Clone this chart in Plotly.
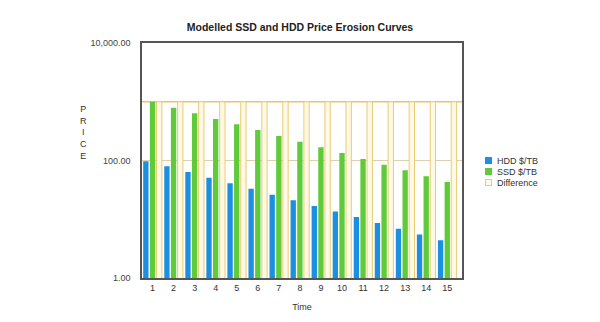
import plotly.graph_objects as go

TIME = list(range(1, 16))
TIME_LABELS = [str(t) for t in TIME]
HDD = [97, 80, 64, 51, 41, 33, 26, 21, 16.8, 13.6, 10.9, 8.6, 6.9, 5.5, 4.4]
SSD = [1000, 790, 635, 508, 413, 330, 261, 209, 168, 134, 106, 85, 68, 54, 43]
DIFFERENCE = [1000] * 15
Y_TICKS = [1, 100, 10000]
Y_TICK_LABELS = ["1.00", "100.00", "10,000.00"]
SERIES_NAMES = ["HDD $/TB", "SSD $/TB", "Difference"]

FONT = "Liberation Sans, Arial, sans-serif"
COLORS = ["#1b8fe0", "#5fca3a", "#fdf9e4"]
OUTLINES = ["#1b8fe0", "#5fca3a", "#e9cc74"]

fig = go.Figure()
for name, vals, c, oc, w in zip(SERIES_NAMES, [HDD, SSD, DIFFERENCE], COLORS, OUTLINES, [0, 0, 1]):
    fig.add_trace(go.Bar(x=TIME, y=vals, name=name, showlegend=False,
                         marker=dict(color=c, line=dict(color=oc, width=w))))

fig.add_shape(type="line", xref="paper", x0=0, x1=1, yref="y",
              y0=max(DIFFERENCE), y1=max(DIFFERENCE),
              line=dict(color="#ebc466", width=1.5), layer="below")

# custom compact legend
legend_x_sym = 1.084
legend_x_txt = 1.103
legend_y0 = 0.499
legend_dy = 0.047
for i, (name, c, oc) in enumerate(zip(SERIES_NAMES, COLORS, OUTLINES)):
    yy = legend_y0 - i * legend_dy
    fig.add_annotation(text="", xref="paper", yref="paper", x=legend_x_sym, y=yy,
                       showarrow=False, width=5, height=5, bgcolor=c,
                       bordercolor=oc, borderwidth=1, borderpad=0,
                       xanchor="center", yanchor="middle")
    fig.add_annotation(text=name, xref="paper", yref="paper", x=legend_x_txt, y=yy,
                       showarrow=False, xanchor="left", yanchor="middle",
                       font=dict(size=9, color="#333", family=FONT))

fig.update_layout(
    width=600, height=322,
    margin=dict(l=142, r=138, t=43, b=44),
    paper_bgcolor="white", plot_bgcolor="white",
    barmode="group", bargap=0.05, bargroupgap=0.2,
    font=dict(family=FONT, size=9, color="#333"),
    showlegend=False,
    title=dict(text="<b>Modelled SSD and HDD Price Erosion Curves</b>",
               x=0.5, xanchor="center", y=0.915, yanchor="middle",
               font=dict(size=10.5, color="#222", family=FONT)),
    xaxis=dict(range=[0.5, 15.7], tickvals=TIME, ticktext=TIME_LABELS,
               showgrid=False, showline=True, linecolor="#555", linewidth=1.5,
               mirror=True, ticks="", tickfont=dict(size=9, color="#333"),
               automargin=False,
               title=dict(text="Time", font=dict(size=9, color="#333"), standoff=12)),
    yaxis=dict(type="log", range=[0, 4], tickvals=Y_TICKS, ticktext=Y_TICK_LABELS,
               showgrid=True, gridcolor="#ddd0b0", gridwidth=1,
               showline=True, linecolor="#555", linewidth=1.5, mirror=True,
               ticks="", ticklabelstandoff=8, tickfont=dict(size=9, color="#444"),
               zeroline=False, automargin=False),
)

fig.add_annotation(text="P<br>R<br>I<br>C<br>E", xref="paper", yref="paper",
                   x=-0.2, y=0.75, showarrow=False, align="center",
                   font=dict(size=9, color="#333", family=FONT))

fig.write_html("out.html")
